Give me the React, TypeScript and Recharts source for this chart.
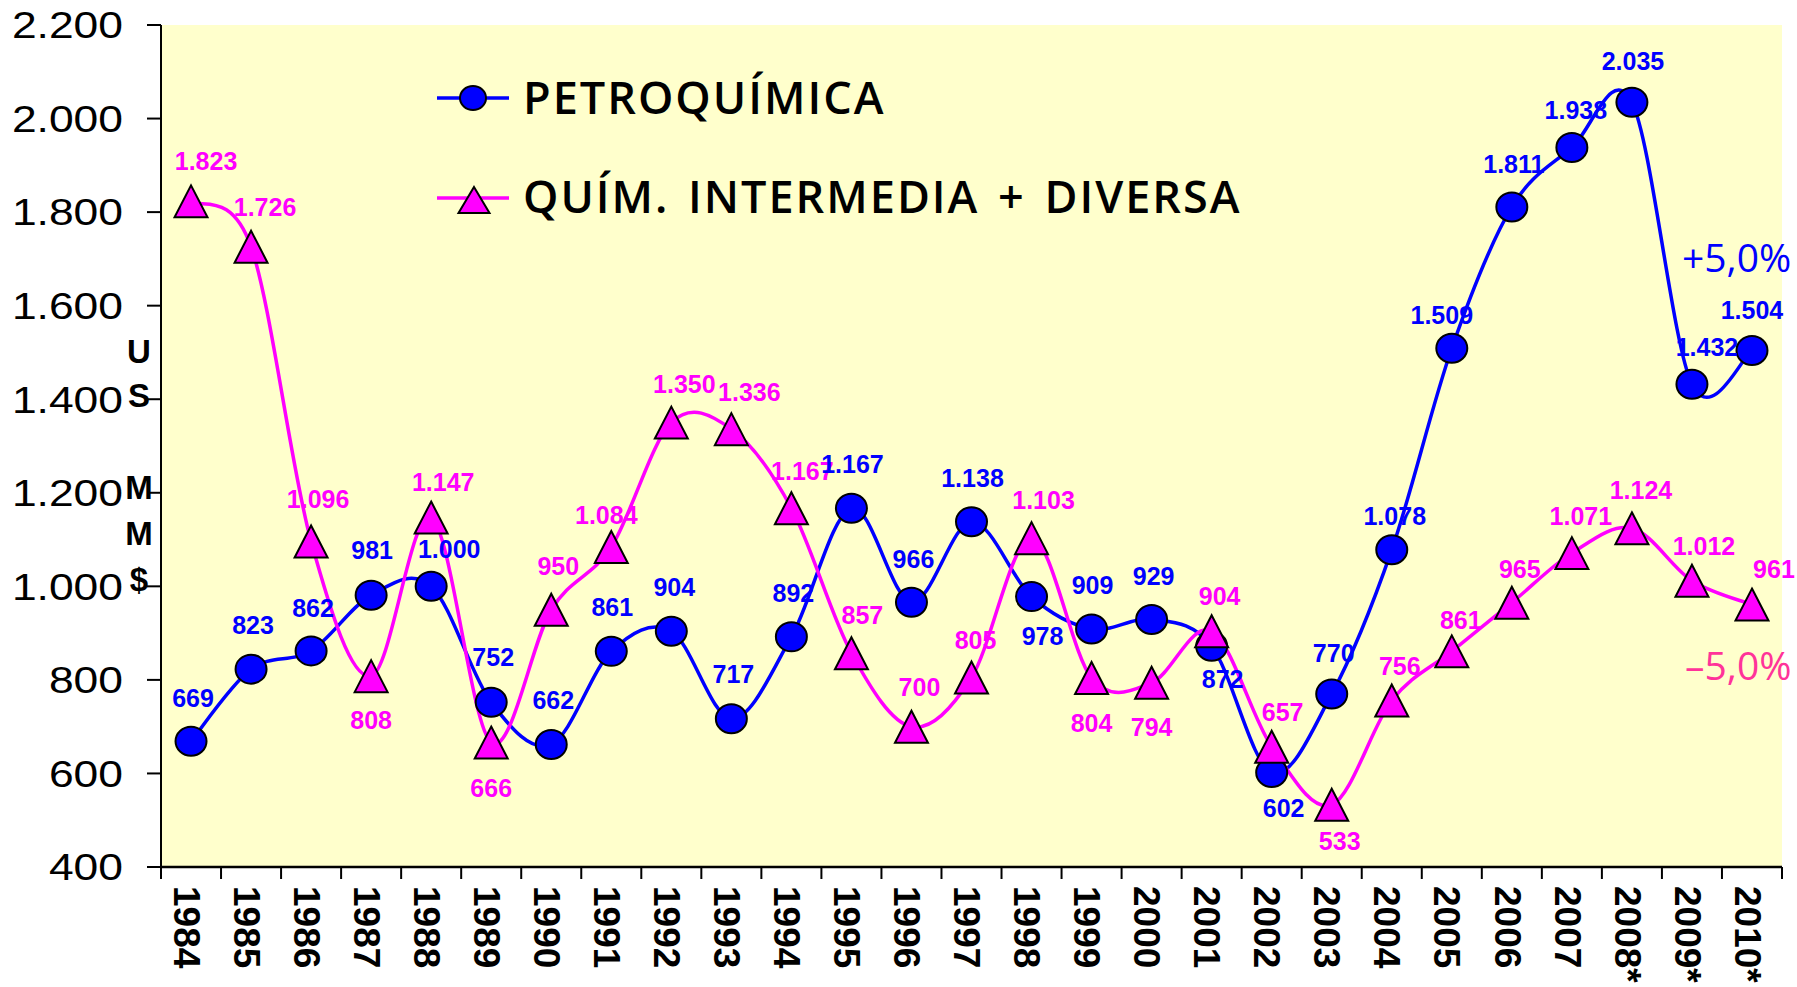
import { LineChart, Line, XAxis, YAxis, CartesianGrid } from 'recharts';

const years = [
  '1984', '1985', '1986', '1987', '1988', '1989', '1990', '1991', '1992',
  '1993', '1994', '1995', '1996', '1997', '1998', '1999', '2000', '2001',
  '2002', '2003', '2004', '2005', '2006', '2007', '2008*', '2009*', '2010*',
];

const petroquimica = [
  669, 823, 862, 981, 1000, 752, 662, 861, 904, 717, 892, 1167, 966, 1138,
  978, 909, 929, 872, 602, 770, 1078, 1509, 1811, 1938, 2035, 1432, 1504,
];

const quimIntermedia = [
  1823, 1726, 1096, 808, 1147, 666, 950, 1084, 1350, 1336, 1167, 857, 700,
  805, 1103, 804, 794, 904, 657, 533, 756, 861, 965, 1071, 1124, 1012, 961,
];

const yTicks = [400, 600, 800, 1000, 1200, 1400, 1600, 1800, 2000, 2200];

// label placement [dx, dy] relative to the marker, as in the original
const petroLabelPos = [
  [2, -43], [2, -44], [2, -43], [1, -45], [18, -37], [2, -45], [2, -44],
  [1, -44], [3, -44], [2, -45], [2, -44], [1, -44], [2, -43], [1, -44],
  [11, 39], [1, -44], [2, -44], [11, 33], [12, 35], [2, -41], [3, -34],
  [-10, -33], [2, -43], [4, -38], [1, -41], [15, -37], [0, -41],
];

const quimLabelPos = [
  [15, -40], [14, -40], [7, -42], [0, 44], [12, -36], [0, 45], [7, -44],
  [-5, -32], [13, -39], [18, -37], [11, -37], [11, -38], [8, -40], [4, -38],
  [12, -38], [0, 45], [0, 44], [8, -35], [11, -35], [8, 36], [8, -34],
  [9, -31], [8, -34], [9, -37], [9, -38], [12, -35], [22, -36],
];

const BLUE = '#0000FF';
const MAGENTA = '#FF00FF';
const ARIAL = '"Liberation Sans", Arial, sans-serif';

const data = years.map((year, i) => ({
  x: i + 0.5,
  year,
  petro: petroquimica[i],
  quim: quimIntermedia[i],
}));

const xTicks: number[] = [];
for (let i = 0; i <= years.length * 2; i++) xTicks.push(i / 2);

const fmt = (n: number) =>
  n >= 1000 ? `${Math.floor(n / 1000)}.${String(n % 1000).padStart(3, '0')}` : String(n);

// Excel-like smoothing (Catmull-Rom)
const catmullRom = (context: any) => {
  let pts: number[][] = [];
  return {
    areaStart() {},
    areaEnd() {},
    lineStart() {
      pts = [];
    },
    point(x: number, y: number) {
      pts.push([+x, +y]);
    },
    lineEnd() {
      const n = pts.length;
      if (!n) return;
      context.moveTo(pts[0][0], pts[0][1]);
      for (let i = 0; i < n - 1; i++) {
        const p0 = pts[Math.max(i - 1, 0)];
        const p1 = pts[i];
        const p2 = pts[i + 1];
        const p3 = pts[Math.min(i + 2, n - 1)];
        context.bezierCurveTo(
          p1[0] + (p2[0] - p0[0]) / 6,
          p1[1] + (p2[1] - p0[1]) / 6,
          p2[0] - (p3[0] - p1[0]) / 6,
          p2[1] - (p3[1] - p1[1]) / 6,
          p2[0],
          p2[1]
        );
      }
    },
  };
};

const triangle = (cx: number, cy: number, w: number, h: number) =>
  `${cx},${cy - h / 2} ${cx + w / 2},${cy + h / 2} ${cx - w / 2},${cy + h / 2}`;

const CircleDot = (props: any) => {
  const { cx, cy, index } = props;
  if (cx == null || cy == null) return null;
  return (
    <ellipse key={`c-${index}`} cx={cx} cy={cy} rx={15.5} ry={14.5} fill={BLUE} stroke="#000" strokeWidth={2} />
  );
};

const TriangleDot = (props: any) => {
  const { cx, cy, index } = props;
  if (cx == null || cy == null) return null;
  return (
    <polygon key={`t-${index}`} points={triangle(cx, cy, 33, 32)} fill={MAGENTA} stroke="#000" strokeWidth={2} strokeLinejoin="miter" />
  );
};

const makeLabel = (values: number[], pos: number[][], color: string) => (props: any) => {
  const { cx, cy, index } = props;
  if (cx == null || cy == null) return null;
  const [dx, dy] = pos[index];
  return (
    <text
      key={`l-${color}-${index}`}
      x={cx + dx}
      y={cy + dy + 9}
      textAnchor="middle"
      fontFamily={ARIAL}
      fontWeight="bold"
      fontSize={25}
      fill={color}
    >
      {fmt(values[index])}
    </text>
  );
};

const YTick = (props: any) => {
  const { x, y, payload } = props;
  return (
    <text
      transform={`translate(${x},${y}) scale(1.2,1)`}
      textAnchor="end"
      dy="0.36em"
      fontFamily={ARIAL}
      fontSize={37}
      fill="#000"
    >
      {fmt(payload.value)}
    </text>
  );
};

const XTick = (props: any) => {
  const { x, y, payload } = props;
  const v = payload.value;
  if (Number.isInteger(v)) {
    return <line x1={x} y1={y} x2={x} y2={y + 12} stroke="#000" strokeWidth={2} />;
  }
  return (
    <text
      transform={`translate(${x - 4},${y + 19}) rotate(90)`}
      dy="0.36em"
      fontFamily={ARIAL}
      fontWeight="bold"
      fontSize={37}
      fill="#000"
    >
      {years[Math.floor(v)]}
    </text>
  );
};

const Overlay = () => (
  <svg width={1797} height={987} style={{ position: 'absolute', left: 0, top: 0, pointerEvents: 'none' }}>
    <line x1={437} y1={98} x2={509} y2={98} stroke={BLUE} strokeWidth={3.5} />
    <ellipse cx={473} cy={98} rx={13} ry={12} fill={BLUE} stroke="#000" strokeWidth={2} />
    <text x={523} y={114} fontFamily='"Open Sans", sans-serif' fontWeight={600} fontSize={45} letterSpacing={2} fill="#000">
      PETROQUÍMICA
    </text>
    <line x1={437} y1={198} x2={509} y2={198} stroke={MAGENTA} strokeWidth={3.5} />
    <polygon points={triangle(474, 200, 31, 26)} fill={MAGENTA} stroke="#000" strokeWidth={2} />
    <text x={523} y={213} fontFamily='"Open Sans", sans-serif' fontWeight={600} fontSize={45} letterSpacing={2} wordSpacing={5} fill="#000">
      QUÍM. INTERMEDIA + DIVERSA
    </text>

    <text x={1682} y={272} fontFamily='"Open Sans", sans-serif' fontSize={39} fill={BLUE}>
      +5,0%
    </text>
    <text x={1685} y={680} fontFamily='"Open Sans", sans-serif' fontSize={39} fill="#FF3399">
      –5,0%
    </text>

    <g fontFamily={ARIAL} fontWeight="bold" fontSize={33} fill="#000" textAnchor="middle">
      <text x={139} y={363}>U</text>
      <text x={139} y={407}>S</text>
      <text x={139} y={499}>M</text>
      <text x={139} y={545}>M</text>
      <text x={139} y={591}>$</text>
    </g>
  </svg>
);

const App = () => {
  return (
    <div style={{ position: 'absolute', left: 0, top: 0, width: 1797, height: 987 }}>
      <LineChart width={1797} height={987} data={data} margin={{ top: 25, right: 15, bottom: 0, left: 0 }}>
        <CartesianGrid fill="#FFFFCC" horizontal={false} vertical={false} />
        <XAxis
          dataKey="x"
          type="number"
          domain={[0, 27]}
          ticks={xTicks}
          interval={0}
          height={120}
          tickSize={0}
          tickMargin={0}
          tickLine={false}
          axisLine={{ stroke: '#000', strokeWidth: 2.5 }}
          tick={<XTick />}
        />
        <XAxis
          xAxisId="top"
          orientation="top"
          type="number"
          domain={[0, 27]}
          height={0}
          tick={false}
          tickLine={false}
          axisLine={{ stroke: '#000', strokeWidth: 2 }}
        />
        <YAxis
          type="number"
          domain={[400, 2200]}
          ticks={yTicks}
          interval={0}
          width={161}
          tickSize={14}
          tickMargin={24}
          tickLine={{ stroke: '#000', strokeWidth: 2 }}
          axisLine={{ stroke: '#000', strokeWidth: 2 }}
          tick={<YTick />}
        />
        <YAxis
          yAxisId="right"
          orientation="right"
          type="number"
          domain={[400, 2200]}
          width={0}
          tick={false}
          tickLine={false}
          axisLine={{ stroke: '#000', strokeWidth: 2 }}
        />
        <Line
          dataKey="petro"
          type={catmullRom as any}
          stroke={BLUE}
          strokeWidth={3.5}
          dot={CircleDot}
          activeDot={false}
          isAnimationActive={false}
        />
        <Line
          dataKey="quim"
          type={catmullRom as any}
          stroke={MAGENTA}
          strokeWidth={3.5}
          dot={TriangleDot}
          activeDot={false}
          isAnimationActive={false}
        />
        <Line
          dataKey="quim"
          stroke="none"
          dot={makeLabel(quimIntermedia, quimLabelPos, MAGENTA)}
          activeDot={false}
          legendType="none"
          isAnimationActive={false}
        />
        <Line
          dataKey="petro"
          stroke="none"
          dot={makeLabel(petroquimica, petroLabelPos, BLUE)}
          activeDot={false}
          legendType="none"
          isAnimationActive={false}
        />
      </LineChart>
      <Overlay />
    </div>
  );
};

export default App;
